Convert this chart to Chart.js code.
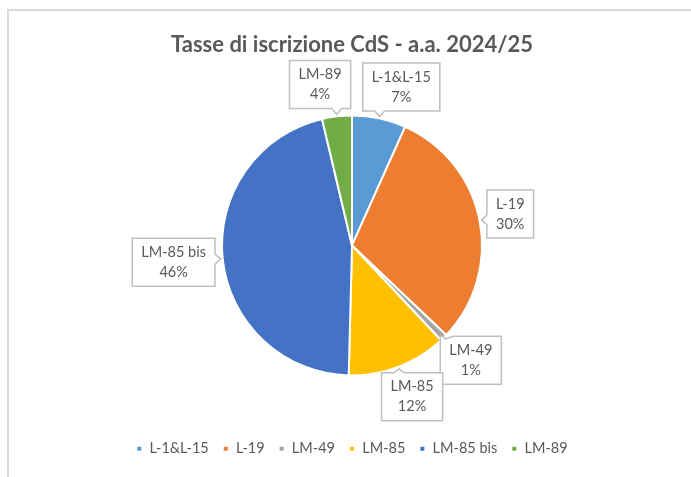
<!DOCTYPE html>
<html>
<head>
<meta charset="utf-8">
<script src="https://cdn.jsdelivr.net/npm/chart.js@4/dist/chart.umd.min.js"></script>
<style>
html, body { margin: 0; padding: 0; background: #fff; overflow: hidden; }
#wrap { position: relative; width: 691px; height: 477px; }
#frame { position: absolute; left: 7px; top: 9px; width: 720px; height: 500px; border: 2px solid #D9D9D9; box-sizing: border-box; }
#torta { position: absolute; left: 0; top: 0; }
</style>
</head>
<body>
<div id="wrap"><div id="frame"></div><canvas id="torta"></canvas></div>
<script>
var corsi = ['L-1&L-15', 'L-19', 'LM-49', 'LM-85', 'LM-85 bis', 'LM-89'];
var quote = [6.7, 30.4, 0.9, 12.4, 45.9, 3.7];
var colori = ['#5B9BD5', '#ED7D31', '#A5A5A5', '#FFC000', '#4472C4', '#70AD47'];
var titolo = 'Tasse di iscrizione CdS - a.a. 2024/25';

var grigio = '#595959';

// etichette a fumetto stile Excel
var callout = {
  id: 'callout',
  afterDatasetsDraw: function(chart) {
    var ctx = chart.ctx;
    var meta = chart.getDatasetMeta(0);
    var tot = quote.reduce(function(a, b) { return a + b; }, 0);
    var gap = 8;
    ctx.save();
    ctx.font = '14.5px Lato';
    ctx.textAlign = 'center';
    ctx.textBaseline = 'middle';

    // prima calcolo i riquadri
    var boxes = meta.data.map(function(arc, i) {
      var a = (arc.startAngle + arc.endAngle) / 2;
      var ux = Math.cos(a), uy = Math.sin(a);
      var r = arc.outerRadius;
      var righe = [corsi[i], Math.round(quote[i] / tot * 100) + '%'];
      var w = Math.max(ctx.measureText(righe[0]).width, ctx.measureText(righe[1]).width) + 18;
      var h = 48;
      return {
        righe: righe, w: w, h: h,
        cx: arc.x + ux * (r + gap) + ux * w / 2,
        cy: arc.y + uy * (r + gap) + uy * h / 2,
        tx: arc.x + ux * (r + 2),
        ty: arc.y + uy * (r + 2)
      };
    });

    // se due riquadri vicini si toccano li allontano in orizzontale
    for (var i = 0; i < boxes.length; i++) {
      var b1 = boxes[i], b2 = boxes[(i + boxes.length - 1) % boxes.length];
      var sx = b1.cx > b2.cx ? 1 : -1;
      var gapX = Math.abs(b1.cx - b2.cx) - (b1.w + b2.w) / 2;
      var gapY = Math.abs(b1.cy - b2.cy) - (b1.h + b2.h) / 2;
      if (gapY < -20 && gapX < 12) {
        var d = (12 - gapX) / 2;
        b1.cx += sx * d;
        b2.cx -= sx * d;
      }
    }

    boxes.forEach(function(b) {
      var x0 = b.cx - b.w / 2, x1 = b.cx + b.w / 2, y0 = b.cy - b.h / 2, y1 = b.cy + b.h / 2;
      var tx = b.tx, ty = b.ty;
      var dx = tx - b.cx, dy = ty - b.cy;
      var lato;
      if (Math.abs(dx) / (b.w / 2) > Math.abs(dy) / (b.h / 2)) lato = dx > 0 ? 'r' : 'l';
      else lato = dy > 0 ? 'b' : 't';
      var bx = Math.min(Math.max(tx, x0 + 8), x1 - 8);
      var by = Math.min(Math.max(ty, y0 + 8), y1 - 8);

      ctx.beginPath();
      ctx.moveTo(x0, y0);
      if (lato == 't') { ctx.lineTo(bx - 5, y0); ctx.lineTo(tx, ty); ctx.lineTo(bx + 5, y0); }
      ctx.lineTo(x1, y0);
      if (lato == 'r') { ctx.lineTo(x1, by - 5); ctx.lineTo(tx, ty); ctx.lineTo(x1, by + 5); }
      ctx.lineTo(x1, y1);
      if (lato == 'b') { ctx.lineTo(bx + 5, y1); ctx.lineTo(tx, ty); ctx.lineTo(bx - 5, y1); }
      ctx.lineTo(x0, y1);
      if (lato == 'l') { ctx.lineTo(x0, by + 5); ctx.lineTo(tx, ty); ctx.lineTo(x0, by - 5); }
      ctx.closePath();
      ctx.fillStyle = '#fff';
      ctx.fill();
      ctx.lineWidth = 1.5;
      ctx.strokeStyle = '#BFBFBF';
      ctx.stroke();

      ctx.fillStyle = grigio;
      ctx.fillText(b.righe[0], b.cx, b.cy - 10);
      ctx.fillText(b.righe[1], b.cx, b.cy + 10);
    });
    ctx.restore();
  }
};

var ctx = document.getElementById('torta').getContext('2d');
var grafico = new Chart(ctx, {
  type: 'pie',
  data: {
    labels: corsi,
    datasets: [{
      data: quote,
      backgroundColor: colori,
      borderColor: '#fff',
      borderWidth: 2,
      radius: 130
    }]
  },
  options: {
    responsive: true,
    maintainAspectRatio: false,
    animation: false,
    layout: { padding: { top: 20, bottom: 11, left: 20, right: 7 } },
    plugins: {
      title: {
        display: true,
        text: titolo,
        color: grigio,
        font: { family: 'Lato', size: 22, weight: 'bold' },
        padding: { top: 12, bottom: 5 }
      },
      legend: {
        position: 'bottom',
        labels: {
          boxWidth: 6,
          boxHeight: 6,
          padding: 14,
          color: grigio,
          font: { family: 'Lato', size: 14.5 }
        }
      },
      tooltip: { enabled: false }
    }
  },
  plugins: [callout]
});
</script>
</body>
</html>
